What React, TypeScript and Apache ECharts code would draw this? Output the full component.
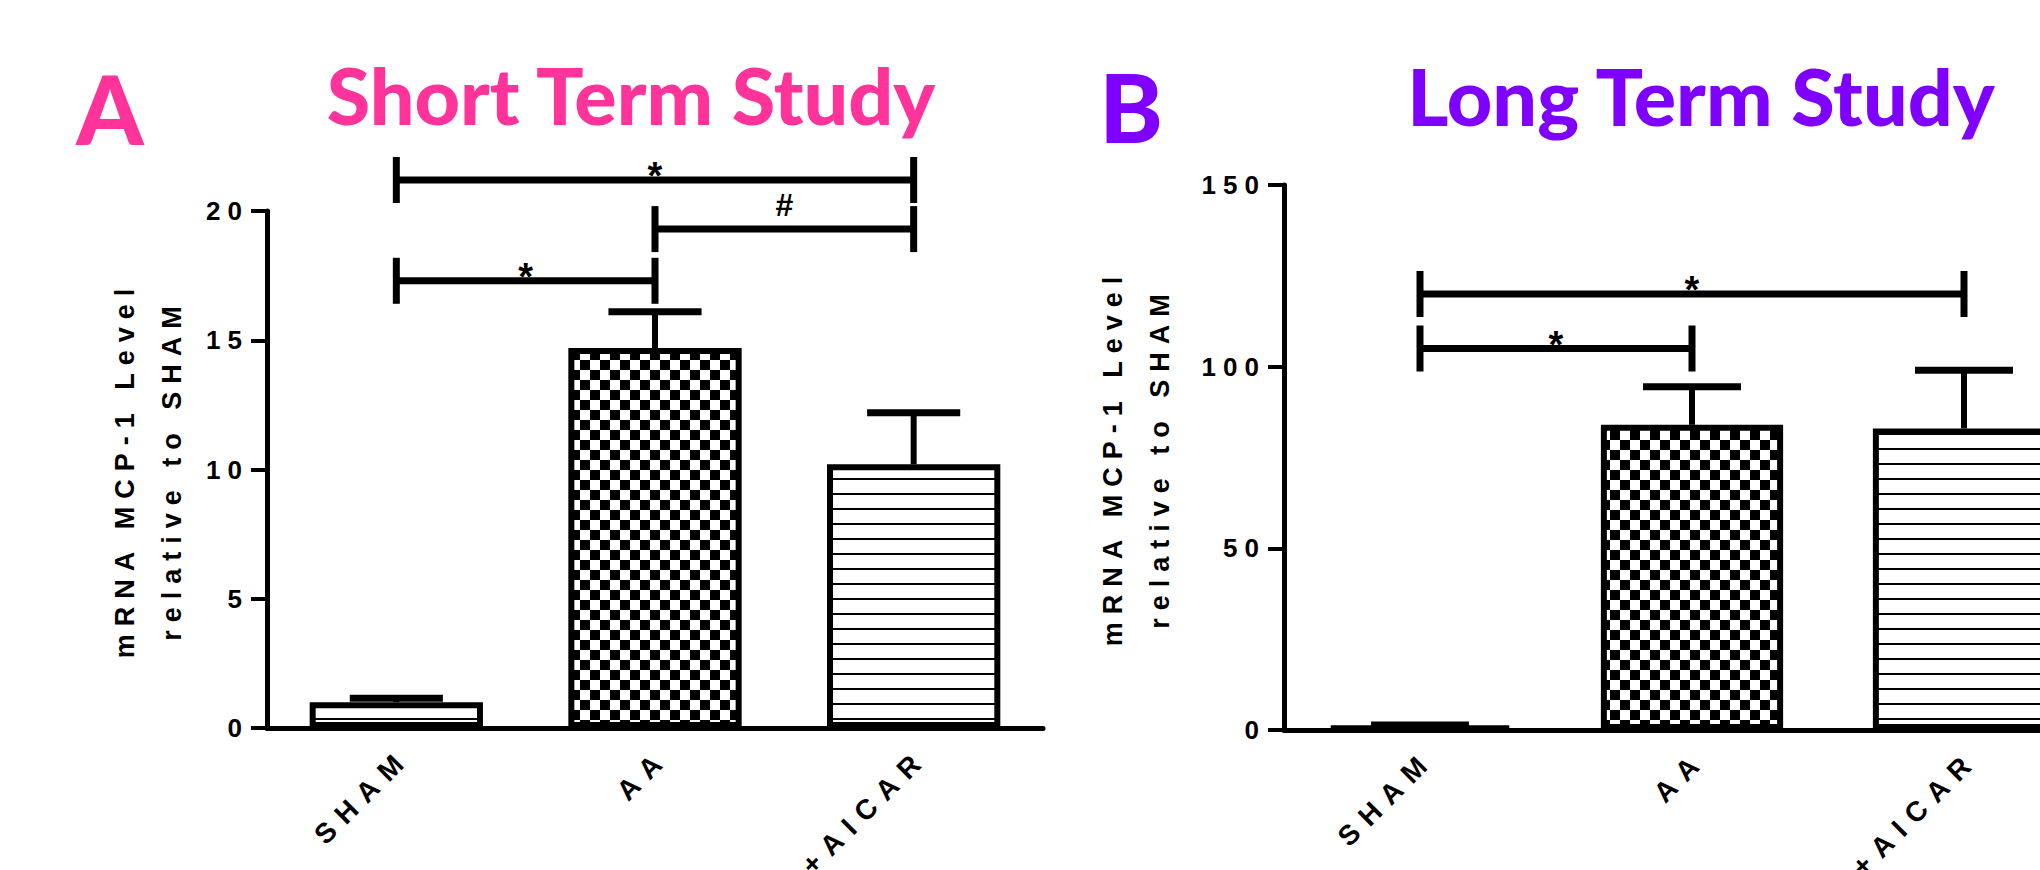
import React, { useEffect, useRef } from 'react';
import * as echarts from 'echarts';

const categories = ['SHAM', 'AA', 'AA+AICAR'];

const shortTermMeans = [1.0, 14.7, 10.2];
const shortTermSEM = [0.15, 1.4, 2.0];
const shortTermTicks = [0, 5, 10, 15, 20];
const shortTermBrackets = [[0, 2, 21.2], [1, 2, 19.3], [0, 1, 17.3]];
const shortTermMarks = ['*', '#', '*'];

const longTermMeans = [1.0, 84, 83];
const longTermSEM = [0.4, 10.5, 16];
const longTermTicks = [0, 50, 100, 150];
const longTermBrackets = [[0, 2, 120], [0, 1, 105]];
const longTermMarks = ['*', '*'];

const panelLetters = ['A', 'B'];
const panelTitles = ['Short Term Study', 'Long Term Study'];
const yAxisTitle = 'mRNA MCP-1 Level\nrelative to SHAM';

const PINK = '#FF3399';
const PURPLE = '#7F00FF';

function makeChecker() {
  const c = document.createElement('canvas');
  c.width = 20;
  c.height = 20;
  const g = c.getContext('2d')!;
  g.fillStyle = '#fff';
  g.fillRect(0, 0, 20, 20);
  g.fillStyle = '#000';
  g.fillRect(0, 0, 10, 10);
  g.fillRect(10, 10, 10, 10);
  return c;
}

function makeStripes() {
  const c = document.createElement('canvas');
  c.width = 16;
  c.height = 15;
  const g = c.getContext('2d')!;
  g.fillStyle = '#fff';
  g.fillRect(0, 0, 16, 15);
  g.fillStyle = '#000';
  g.fillRect(0, 13, 16, 2);
  return c;
}

export default function App() {
  const ref = useRef<HTMLDivElement>(null);

  useEffect(() => {
    const el = ref.current!;
    const chart = echarts.init(el, null, { renderer: 'svg' });
    const checker = makeChecker();
    const stripes = makeStripes();
    const fills = [stripes, checker, stripes];

    const labelFont = { fontFamily: 'Liberation Sans', fontWeight: 'bold' as const, color: '#000' };

    const panels = [
      { means: shortTermMeans, sem: shortTermSEM, ticks: shortTermTicks, brackets: shortTermBrackets, marks: shortTermMarks, nameGap: 72 },
      { means: longTermMeans, sem: longTermSEM, ticks: longTermTicks, brackets: longTermBrackets, marks: longTermMarks, nameGap: 101 },
    ];

    const series: any[] = [];
    panels.forEach((p, gi) => {
      series.push({
        type: 'bar',
        xAxisIndex: gi,
        yAxisIndex: gi,
        barWidth: '67%',
        z: 2,
        data: p.means.map((v, i) => ({
          value: v,
          itemStyle: {
            color: { image: fills[i], repeat: 'repeat' },
            borderColor: '#000',
            borderWidth: 6,
          },
        })),
      });
      series.push({
        type: 'custom',
        xAxisIndex: gi,
        yAxisIndex: gi,
        z: 5,
        encode: { x: 0, y: 1 },
        data: p.means.map((v, i) => [i, v, p.sem[i]]),
        renderItem: (params: any, api: any) => {
          const x = api.value(0);
          const m = api.value(1);
          const s = api.value(2);
          const p0 = api.coord([x, m]);
          const p1 = api.coord([x, m + s]);
          const half = api.size([1, 0])[0] * 0.18;
          return {
            type: 'group',
            children: [
              { type: 'line', shape: { x1: p0[0], y1: p0[1], x2: p1[0], y2: p1[1] }, style: { stroke: '#000', lineWidth: 6 } },
              { type: 'line', shape: { x1: p1[0] - half, y1: p1[1], x2: p1[0] + half, y2: p1[1] }, style: { stroke: '#000', lineWidth: 7 } },
            ],
          };
        },
      });
      series.push({
        type: 'custom',
        xAxisIndex: gi,
        yAxisIndex: gi,
        z: 6,
        clip: false,
        encode: { x: 0, y: 2 },
        data: p.brackets,
        renderItem: (params: any, api: any) => {
          const y = api.value(2);
          const a = api.coord([api.value(0), y]);
          const b = api.coord([api.value(1), y]);
          const mark = p.marks[params.dataIndex];
          const isStar = mark === '*';
          const h = 23;
          return {
            type: 'group',
            children: [
              { type: 'line', shape: { x1: a[0], y1: a[1], x2: b[0], y2: b[1] }, style: { stroke: '#000', lineWidth: 7 } },
              { type: 'line', shape: { x1: a[0], y1: a[1] - h, x2: a[0], y2: a[1] + h }, style: { stroke: '#000', lineWidth: 7 } },
              { type: 'line', shape: { x1: b[0], y1: b[1] - h, x2: b[0], y2: b[1] + h }, style: { stroke: '#000', lineWidth: 7 } },
              {
                type: 'text',
                x: (a[0] + b[0]) / 2,
                y: a[1] + (isStar ? -4 : -24),
                style: {
                  text: mark,
                  fill: '#000',
                  font: isStar ? 'bold 38px Arial' : 'bold 32px Arial',
                  textAlign: 'center',
                  textVerticalAlign: 'middle',
                  align: 'center',
                  verticalAlign: 'middle',
                },
              },
            ],
          };
        },
      });
    });

    const option: any = {
      animation: false,
      backgroundColor: '#fff',
      grid: [
        { left: 267, top: 211, width: 776, height: 517, containLabel: false, outerBoundsMode: 'none' },
        { left: 1284, top: 185, width: 816, height: 545, containLabel: false, outerBoundsMode: 'none' },
      ],
      xAxis: panels.map((p, gi) => ({
        type: 'category',
        gridIndex: gi,
        data: categories,
        axisLine: { lineStyle: { color: '#000', width: 5 } },
        axisTick: { alignWithLabel: true, length: 16, lineStyle: { color: '#000', width: 4 } },
        axisLabel: { rotate: 45, interval: 0, margin: 34, padding: [0, -13, 0, 0], fontSize: 28, ...labelFont },
        splitLine: { show: false },
      })),
      yAxis: panels.map((p, gi) => ({
        type: 'value',
        gridIndex: gi,
        min: p.ticks[0],
        max: p.ticks[p.ticks.length - 1],
        interval: p.ticks[1] - p.ticks[0],
        axisLine: { show: true, lineStyle: { color: '#000', width: 5 } },
        axisTick: { show: true, length: 16, lineStyle: { color: '#000', width: 4 } },
        axisLabel: { margin: 18, fontSize: 26, ...labelFont },
        splitLine: { show: false },
        name: yAxisTitle,
        nameLocation: 'middle',
        nameRotate: 90,
        nameGap: p.nameGap,
        nameTextStyle: { fontSize: 27, lineHeight: 47, ...labelFont },
      })),
      graphic: [
        { type: 'text', x: 110, y: 107, style: { text: panelLetters[0], font: '900 96px Lato', fill: PINK, textAlign: 'center', textVerticalAlign: 'middle', align: 'center', verticalAlign: 'middle' } },
        { type: 'text', x: 631, y: 94, style: { text: panelTitles[0], font: '900 79px Lato', fill: PINK, textAlign: 'center', textVerticalAlign: 'middle', align: 'center', verticalAlign: 'middle' } },
        { type: 'text', x: 1131, y: 105, style: { text: panelLetters[1], font: '900 96px Lato', fill: PURPLE, textAlign: 'center', textVerticalAlign: 'middle', align: 'center', verticalAlign: 'middle' } },
        { type: 'text', x: 1701, y: 95, style: { text: panelTitles[1], font: '900 79px Lato', fill: PURPLE, textAlign: 'center', textVerticalAlign: 'middle', align: 'center', verticalAlign: 'middle' } },
      ],
      series,
    };

    const spacing: Record<number, number> = { 26: 7, 27: 8, 28: 10 };
    const applySpacing = () => {
      el.querySelectorAll('text').forEach((t) => {
        const cs = getComputedStyle(t);
        if (!/Liberation/i.test(cs.fontFamily)) return;
        const fs = Math.round(parseFloat(cs.fontSize));
        const ls = spacing[fs];
        if (ls) t.setAttribute('letter-spacing', String(ls));
      });
    };

    chart.setOption(option);
    applySpacing();
    chart.on('finished', applySpacing);
    const timer = setTimeout(applySpacing, 100);

    return () => {
      clearTimeout(timer);
      chart.dispose();
    };
  }, []);

  return (
    <div style={{ position: 'fixed', left: 0, top: 0, width: 2040, height: 870, overflow: 'hidden', background: '#fff' }}>
      <div ref={ref} style={{ width: 2100, height: 870 }} />
    </div>
  );
}
